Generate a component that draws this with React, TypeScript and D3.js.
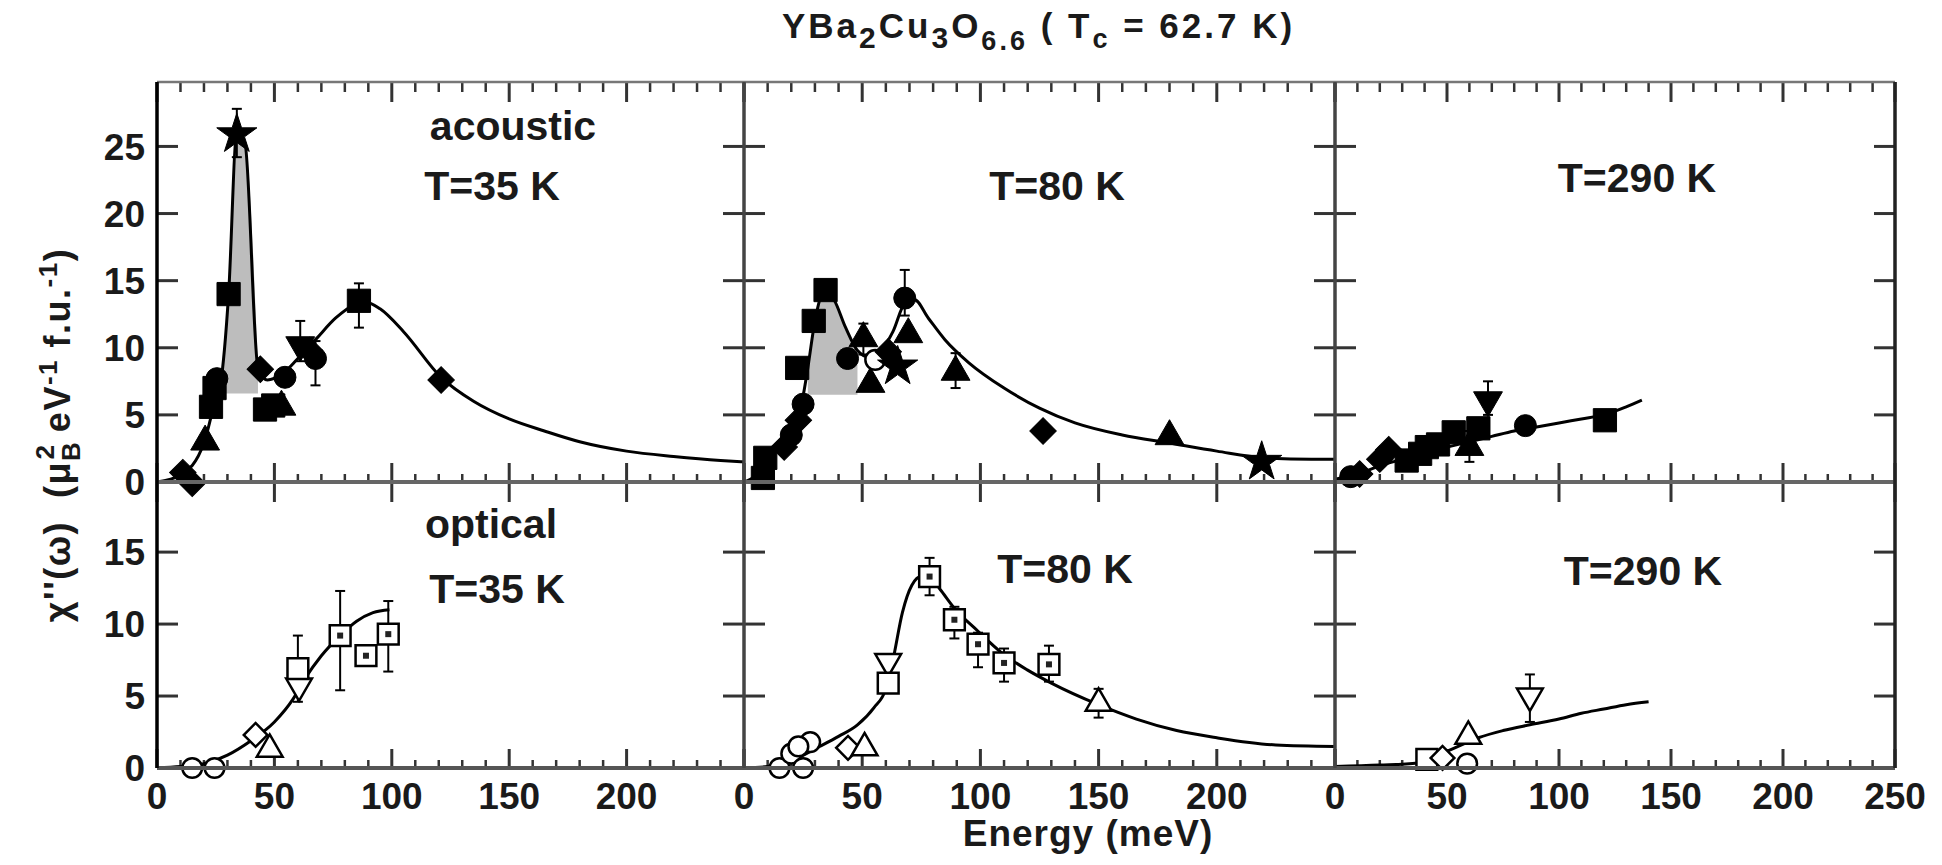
import React from 'react';
import * as d3 from 'd3';

// ---------------- data ----------------
type Pt = [number, number, string, number?, number?]; // x, y, symbol, errLow, errHigh

const tempLabels = ['T=35 K', 'T=80 K', 'T=290 K'];
const xTickLabels = [
  [0, 50, 100, 150, 200],
  [0, 50, 100, 150, 200],
  [0, 50, 100, 150, 200, 250],
];
const topYTicks = [0, 5, 10, 15, 20, 25];
const bottomYTicks = [0, 5, 10, 15];

// acoustic, T=35 K
const acoustic35Line: [number, number][] = [
  [0, 0], [10, 0.5], [20, 2.9], [24, 5.5], [27, 7.2], [30.5, 14], [34, 26], [37.5, 25.2], [43, 8.5],
  [47, 7.6], [53, 8.0], [60, 9.2], [68, 10.7], [76, 12.2], [84, 13.2], [89, 13.4], [95, 12.9],
  [105, 11.2], [121, 7.8], [135, 6.0], [150, 4.7], [165, 3.8], [180, 3.0], [200, 2.3], [220, 1.9],
  [240, 1.6], [250, 1.5],
];
const acoustic35Points: Pt[] = [
  [11, 0.7, 'diamond'], [15, -0.1, 'diamond'], [20.5, 3.0, 'triangle'], [23, 5.6, 'square'],
  [24.5, 7.0, 'square'], [25.5, 7.7, 'circle'], [30.5, 14.0, 'square'], [34, 25.9, 'star', 24.2, 27.8],
  [44, 8.4, 'diamond'], [46, 5.4, 'square'], [49.5, 5.7, 'square'], [53, 5.6, 'triangle'],
  [54.5, 7.8, 'circle'], [61, 10.2, 'triangleDown', 9.0, 12.0], [65, 9.8, 'diamond'],
  [67.5, 9.2, 'circle', 7.2, 10.5], [86, 13.5, 'square', 11.5, 14.8], [121, 7.6, 'diamond'],
];
const acoustic35Shade = { from: 27, to: 43, base: 6.6 };

// acoustic, T=80 K
const acoustic80Line: [number, number][] = [
  [0, 0], [5, 0.5], [10, 1.8], [15, 2.6], [20, 3.6], [24, 5.5], [27, 8.5], [30, 12], [34, 14.2],
  [38, 13.6], [43, 11.5], [48, 9.8], [53, 9.3], [58, 9.8], [63, 11.2], [68, 13.3], [72, 13.6],
  [78, 12.2], [85, 10.6], [95, 8.9], [110, 7.0], [125, 5.5], [140, 4.4], [160, 3.5], [180, 2.9],
  [200, 2.3], [220, 1.8], [240, 1.7], [250, 1.7],
];
const acoustic80Points: Pt[] = [
  [8, 0.3, 'square'], [9, 1.8, 'square'], [17, 2.6, 'diamond'], [20, 3.5, 'circle'],
  [23, 4.6, 'diamond'], [25, 5.8, 'circle'], [22.5, 8.5, 'square'], [29.5, 12.0, 'square'],
  [34.5, 14.3, 'square'], [43.8, 9.2, 'circle'], [50.5, 10.7, 'triangle', 9.5, 11.8],
  [53.5, 7.3, 'triangle'], [55.5, 9.1, 'circleOpen'], [61, 9.7, 'diamond'], [65, 8.6, 'star'],
  [69.5, 11.0, 'triangle'], [68, 13.7, 'circle', 12.4, 15.8], [89.5, 8.2, 'triangle', 7.0, 9.6],
  [126.5, 3.8, 'diamond'], [180, 3.4, 'triangle'], [219, 1.5, 'star'],
];
const acoustic80Shade = { from: 27, to: 49, base: 6.5 };

// acoustic, T=290 K
const acoustic290Line: [number, number][] = [
  [0, 0.2], [10, 0.6], [20, 1.2], [30, 1.7], [40, 2.2], [50, 2.6], [60, 3.0], [70, 3.4], [80, 3.8],
  [90, 4.1], [100, 4.4], [110, 4.7], [120, 5.0], [130, 5.6], [137, 6.1],
];
const acoustic290Points: Pt[] = [
  [7, 0.4, 'circle'], [11, 0.6, 'diamond'], [20, 1.7, 'diamond'], [24, 2.4, 'diamond'],
  [32, 1.6, 'square'], [38, 2.1, 'square'], [41, 2.6, 'square'], [46, 2.8, 'square'],
  [53, 3.7, 'square'], [60, 2.6, 'triangle', 1.5, 3.8], [64, 4.0, 'square'],
  [68.3, 6.1, 'triangleDown', 5.0, 7.5], [85, 4.2, 'circle'], [120.5, 4.6, 'square'],
];

// optical, T=35 K
const optical35Line: [number, number][] = [
  [0, 0], [10, 0.1], [20, 0.3], [30, 0.9], [40, 1.9], [50, 3.2], [58, 4.8], [63, 6.2], [70, 7.8],
  [78, 9.2], [85, 10.2], [92, 10.8], [99, 11.0],
];
const optical35Points: Pt[] = [
  [15, 0, 'circleOpen'], [24.5, 0, 'circleOpen'], [42, 2.3, 'diamondOpen'], [48, 1.3, 'triangleOpen'],
  [60.5, 5.7, 'triangleDownOpen'], [60, 6.9, 'squareOpen', 4.6, 9.2], [78, 9.2, 'squareDot', 5.4, 12.3],
  [89, 7.8, 'squareDot'], [98.5, 9.3, 'squareDot', 6.7, 11.6],
];

// optical, T=80 K
const optical80Line: [number, number][] = [
  [0, 0], [10, 0.1], [20, 0.5], [32, 1.5], [40, 2.2], [48, 3.0], [55, 4.2], [60, 5.5], [63, 7.5],
  [67, 10.8], [71, 12.7], [75, 13.3], [79, 13.2], [83, 12.4], [89, 11.1], [99, 9.5], [109, 8.0],
  [120, 6.8], [130, 5.9], [150, 4.4], [166, 3.4], [183, 2.6], [200, 2.1], [225, 1.6], [250, 1.5],
];
const optical80Points: Pt[] = [
  [15, 0, 'circleOpen'], [20, 1.0, 'circleOpen'], [25, 0, 'circleOpen'], [28, 1.8, 'circleOpen'],
  [23, 1.5, 'circleOpen'], [44, 1.4, 'diamondOpen'], [51, 1.4, 'triangleOpen'],
  [61, 7.4, 'triangleDownOpen'], [61, 5.9, 'squareOpen'], [78.5, 13.3, 'squareDot', 12.0, 14.6],
  [89, 10.3, 'squareDot', 9.0, 11.2], [99, 8.6, 'squareDot', 7.0, 9.4], [110, 7.3, 'squareDot', 6.0, 8.3],
  [129, 7.2, 'squareDot', 6.0, 8.5], [150, 4.5, 'triangleOpen', 3.5, 5.5],
];

// optical, T=290 K
const optical290Line: [number, number][] = [
  [0, 0.1], [20, 0.2], [37, 0.35], [46, 0.9], [55, 1.5], [64, 2.1], [75, 2.6], [87, 3.0], [100, 3.4],
  [110, 3.8], [120, 4.1], [130, 4.4], [140, 4.6],
];
const optical290Points: Pt[] = [
  [41, 0.6, 'squareOpen'], [48, 0.7, 'diamondOpen'], [59, 0.3, 'circleOpen'],
  [59.5, 2.2, 'triangleOpen'], [87, 5.0, 'triangleDownOpen', 3.2, 6.5],
];

// ---------------- layout ----------------
const FONT = '"Liberation Sans", Arial, Helvetica, sans-serif';
const COLS: [number, number][] = [[157, 744], [744, 1335], [1335, 1895]];
const TOP_Y: [number, number] = [482, 82];
const BOT_Y: [number, number] = [768, 482];

function Marker({ x, y, type }: { x: number; y: number; type: string }) {
  const open = type.endsWith('Open') || type === 'squareDot';
  const base = type.replace('Open', '');
  let d = '';
  let rot = 0;
  const s = open ? 0.8 : 1;
  switch (base) {
    case 'square':
    case 'squareDot':
      d = d3.symbol(d3.symbolSquare, 540 * s)() as string; break;
    case 'circle':
      d = d3.symbol(d3.symbolCircle, 380 * s)() as string; break;
    case 'diamond':
      d = d3.symbol(d3.symbolSquare, 350 * s)() as string; rot = 45; break;
    case 'triangle':
      d = d3.symbol(d3.symbolTriangle, 360 * s)() as string; break;
    case 'triangleDown':
      d = d3.symbol(d3.symbolTriangle, 360 * s)() as string; rot = 180; break;
    case 'star':
      d = d3.symbol(d3.symbolStar, 500)() as string; break;
  }
  return (
    <g transform={`translate(${x},${y}) rotate(${rot})`}>
      <path d={d} fill={open ? '#fff' : '#000'} stroke="#000" strokeWidth={open ? 2.5 : 1} />
      {base === 'squareDot' && <rect x={-3} y={-3} width={6} height={6} fill="#222" />}
    </g>
  );
}

function Panel({ col, top, line, points, shade }: {
  col: number; top: boolean; line: [number, number][]; points: Pt[];
  shade?: { from: number; to: number; base: number };
}) {
  const x = d3.scaleLinear().domain([0, 250]).range(COLS[col]);
  const y = top
    ? d3.scaleLinear().domain([0, 29.8]).range(TOP_Y)
    : d3.scaleLinear().domain([0, 19.87]).range(BOT_Y);
  const lineGen = d3.line<[number, number]>().x(d => x(d[0])).y(d => y(d[1])).curve(d3.curveMonotoneX);
  let shadePath: string | null = null;
  if (shade) {
    const sub = line.filter(d => d[0] >= shade.from && d[0] <= shade.to);
    shadePath = d3.area<[number, number]>().x(d => x(d[0])).y0(y(shade.base)).y1(d => y(d[1]))
      .curve(d3.curveMonotoneX)(sub);
  }
  const [yb, yt] = top ? TOP_Y : BOT_Y;
  const [xl, xr] = COLS[col];
  const yTicks = top ? topYTicks : bottomYTicks;
  const majors = d3.range(0, 251, 50);
  const minors = d3.range(0, 251, 10).filter(v => v % 50 !== 0);
  const tk = '#333';
  return (
    <g>
      {shadePath && <path d={shadePath} fill="#bdbdbd" stroke="none" />}
      {majors.map(v => <line key={'bM' + v} x1={x(v)} x2={x(v)} y1={yb} y2={yb - 19} stroke={tk} strokeWidth={3} />)}
      {minors.map(v => <line key={'bm' + v} x1={x(v)} x2={x(v)} y1={yb} y2={yb - 8} stroke={tk} strokeWidth={2.5} />)}
      {majors.map(v => <line key={'tM' + v} x1={x(v)} x2={x(v)} y1={yt} y2={yt + 20} stroke={tk} strokeWidth={3} />)}
      {top && minors.map(v => <line key={'tm' + v} x1={x(v)} x2={x(v)} y1={yt} y2={yt + 10} stroke={tk} strokeWidth={2.5} />)}
      {yTicks.map(v => <line key={'yl' + v} x1={xl} x2={xl + 21} y1={y(v)} y2={y(v)} stroke={tk} strokeWidth={3} />)}
      {yTicks.map(v => <line key={'yr' + v} x1={xr} x2={xr - 21} y1={y(v)} y2={y(v)} stroke={tk} strokeWidth={3} />)}
      <path d={lineGen(line) as string} fill="none" stroke="#000" strokeWidth={3} />
      {points.map((p, i) => (
        p[3] !== undefined ? (
          <g key={'e' + i} stroke="#000" strokeWidth={2}>
            <line x1={x(p[0])} x2={x(p[0])} y1={y(p[3] as number)} y2={y(p[4] as number)} />
            <line x1={x(p[0]) - 5} x2={x(p[0]) + 5} y1={y(p[3] as number)} y2={y(p[3] as number)} />
            <line x1={x(p[0]) - 5} x2={x(p[0]) + 5} y1={y(p[4] as number)} y2={y(p[4] as number)} />
          </g>
        ) : null
      ))}
      {points.map((p, i) => <Marker key={'m' + i} x={x(p[0])} y={y(p[1])} type={p[2]} />)}
    </g>
  );
}

export default function App() {
  const topLines = [acoustic35Line, acoustic80Line, acoustic290Line];
  const topPoints = [acoustic35Points, acoustic80Points, acoustic290Points];
  const topShades = [acoustic35Shade, acoustic80Shade, undefined];
  const botLines = [optical35Line, optical80Line, optical290Line];
  const botPoints = [optical35Points, optical80Points, optical290Points];
  const yTop = d3.scaleLinear().domain([0, 29.8]).range(TOP_Y);
  const yBot = d3.scaleLinear().domain([0, 19.87]).range(BOT_Y);
  const topLabelPos = [[492, 200], [1057, 200], [1637, 192]];
  const botLabelPos = [[497, 603], [1065, 583], [1643, 585]];
  const tickFont = 37;
  return (
    <svg width={1942} height={865} style={{ position: 'absolute', left: 0, top: 0, background: '#fff' }}
      fontFamily={FONT} fontWeight="bold">
      <rect x={0} y={0} width={1942} height={865} fill="#fff" />
      {[0, 1, 2].map(c => (
        <g key={c}>
          <Panel col={c} top line={topLines[c]} points={topPoints[c]} shade={topShades[c]} />
          <Panel col={c} top={false} line={botLines[c]} points={botPoints[c]} />
        </g>
      ))}
      <g stroke="#444" strokeWidth={3.5} fill="none">
        <line x1={157} x2={1895} y1={82} y2={82} stroke="#777" strokeWidth={2.5} />
        <line x1={157} x2={1895} y1={482} y2={482} stroke="#666" strokeWidth={4} />
        <line x1={157} x2={1895} y1={768} y2={768} stroke="#555" strokeWidth={4} />
        <line x1={744} x2={744} y1={82} y2={768} />
        <line x1={1335} x2={1335} y1={82} y2={768} />
        <line x1={1895} x2={1895} y1={82} y2={768} stroke="#222" />
        <line x1={157} x2={157} y1={82} y2={768} stroke="#000" />
      </g>
      <g fontSize={tickFont} textAnchor="end" fill="#1a1a1a">
        {topYTicks.map(v => <text key={'ty' + v} x={145} y={yTop(v)} dy="0.36em">{v}</text>)}
        {bottomYTicks.map(v => <text key={'by' + v} x={145} y={yBot(v)} dy="0.36em">{v}</text>)}
      </g>
      <g fontSize={tickFont} textAnchor="middle" fill="#1a1a1a">
        {COLS.map((c, i) => {
          const x = d3.scaleLinear().domain([0, 250]).range(c);
          return xTickLabels[i].map(v => <text key={i + '-' + v} x={x(v)} y={809}>{v}</text>);
        })}
      </g>
      <g fontSize={41} textAnchor="middle" fill="#1a1a1a">
        <text x={513} y={140}>acoustic</text>
        <text x={491} y={538}>optical</text>
        {tempLabels.map((t, i) => <text key={'tt' + i} x={topLabelPos[i][0]} y={topLabelPos[i][1]}>{t}</text>)}
        {tempLabels.map((t, i) => <text key={'bt' + i} x={botLabelPos[i][0]} y={botLabelPos[i][1]}>{t}</text>)}
      </g>
      <text x={782} y={38} fontSize={35} fill="#1a1a1a" letterSpacing={3} style={{ whiteSpace: 'pre' }}>
        YBa<tspan fontSize={30} dy={10}>2</tspan>
        <tspan dy={-10}>Cu</tspan><tspan fontSize={30} dy={10}>3</tspan>
        <tspan dy={-10}>O</tspan><tspan fontSize={27} dy={12}>6.6</tspan>
        <tspan dy={-12}> ( T</tspan><tspan fontSize={27} dy={10}>c</tspan>
        <tspan dy={-10}> = 62.7 K)</tspan>
      </text>
      <text x={1088} y={846} fontSize={37} textAnchor="middle" fill="#1a1a1a" letterSpacing={1}>Energy (meV)</text>
      <text transform="translate(70,435) rotate(-90)" fontSize={36} textAnchor="middle" fill="#1a1a1a"
        letterSpacing={1.5} style={{ whiteSpace: 'pre' }}>
        χ''(ω)  (μ<tspan fontSize={26} dy={10}>B</tspan>
        <tspan fontSize={26} dx={-19} dy={-26}>2</tspan>
        <tspan dy={16}> eV</tspan><tspan fontSize={26} dy={-13}>-1</tspan>
        <tspan dy={13}> f.u.</tspan><tspan fontSize={26} dy={-13}>-1</tspan>
        <tspan dy={13}>)</tspan>
      </text>
    </svg>
  );
}
